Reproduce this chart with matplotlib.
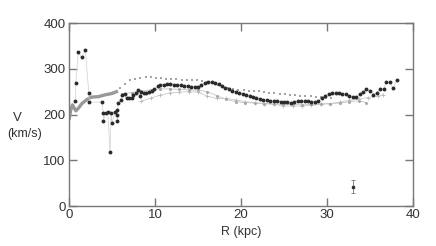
import matplotlib
matplotlib.use("Agg")
import matplotlib.pyplot as plt

plt.rcParams['font.family'] = ['Liberation Sans', 'DejaVu Sans']

# -------- DATA --------
# thick model curve, inner region
inner_r = [0.0, 0.2, 0.4, 0.6, 0.8, 1.1, 1.5, 2.1, 2.6, 3.4, 4.2, 5.0, 5.4, 5.7]
inner_v = [188, 210, 221, 214, 208, 214, 224, 233, 238, 239, 243, 246, 249, 251]

# upper grey dotted series
upper_r = [5.9, 6.5, 7.1, 7.7, 8.3, 8.9, 9.5, 10.1, 10.7, 11.3, 11.9, 12.5, 13.1,
           13.7, 14.3, 14.9, 15.5, 16.1, 16.7, 17.3, 17.9, 18.5, 19.1, 19.7,
           20.3, 20.9, 21.5, 22.1, 22.7, 23.3, 23.9, 24.5, 25.1, 25.7, 26.3,
           26.9, 27.5, 28.1, 28.7, 29.3, 29.9, 30.5]
upper_v = [258, 267, 275, 278, 280, 281, 281, 280, 279, 278, 277, 277, 276,
           276, 275, 275, 273, 272, 268, 265, 261, 258, 256, 254,
           253, 252, 252, 251, 250, 248, 247, 245, 244, 242, 242,
           241, 240, 240, 239, 238, 236, 235]

# thin grey series with circles
mid_r = [6.2, 7.3, 8.4, 9.5, 10.6, 11.7, 12.8, 13.9, 15.0, 16.1, 17.2, 18.3, 19.4,
         20.5, 21.6, 22.7, 23.8, 24.9, 26.0, 27.1, 28.2, 29.3, 30.4, 31.5, 32.6,
         33.7, 34.6]
mid_v = [245, 248, 251, 254, 256, 256, 255, 254, 253, 250, 241, 233, 228,
         226, 225, 224, 223, 222, 222, 221, 222, 223, 224, 225, 228,
         230, 226]

# lightest thin series
low_r = [8.4, 9.5, 10.6, 11.7, 12.8, 13.9, 15.0, 16.1, 17.2, 18.3, 19.4, 20.5,
         21.6, 22.7, 23.8, 24.9, 26.0, 27.1, 28.2, 29.3, 30.4, 31.5, 32.6, 33.7,
         34.8, 35.9, 36.5]
low_v = [229, 236, 242, 247, 249, 250, 249, 240, 235, 235, 232, 228,
         226, 224, 222, 219, 218, 219, 220, 222, 224, 227, 231, 234,
         237, 240, 243]

# observed points
obs_r = [0.73, 0.78, 1.08, 1.47, 1.9, 2.3, 2.36, 3.8, 4.0, 4.0, 4.25, 4.5, 4.77,
         4.9, 5.0, 5.35, 5.6, 5.6, 5.6, 5.7, 6.0, 6.2, 6.5, 6.7, 7.0, 7.3, 7.5,
         7.8, 8.0, 8.2, 8.4, 8.7, 9.0, 9.3, 9.6, 9.9, 10.3, 10.6, 11.0, 11.4,
         11.8, 12.2, 12.6, 13.0, 13.4, 13.8, 14.2, 14.6, 15.0, 15.4, 15.8, 16.2,
         16.6, 17.0, 17.4, 17.8, 18.2, 18.6, 19.0, 19.4, 19.8, 20.2, 20.6, 21.0,
         21.4, 21.8, 22.2, 22.6, 23.0, 23.4, 23.8, 24.2, 24.6, 25.0, 25.4, 25.8,
         26.2, 26.6, 27.0, 27.4, 27.8, 28.2, 28.6, 29.0, 29.4, 29.8, 30.2, 30.6,
         31.0, 31.4, 31.8, 32.2, 32.6, 33.0, 33.4, 33.8, 34.2, 34.6, 35.0, 35.4,
         35.8, 36.2, 36.6, 36.9, 37.3, 37.7, 38.1]
obs_v = [229, 268, 336, 325, 340, 248, 227, 227, 204, 186, 203, 206, 118,
         203, 181, 206, 209, 200, 186, 225, 232, 243, 245, 236, 235, 237, 242,
         246, 254, 240, 249, 247, 248, 250, 252, 255, 262, 264, 265, 266,
         266, 265, 265, 264, 263, 262, 261, 260, 261, 265, 268, 270,
         270, 269, 267, 262, 258, 255, 252, 249, 247, 245, 242, 240,
         238, 236, 234, 232, 231, 230, 229, 229, 228, 228, 227, 226,
         228, 229, 229, 229, 229, 228, 227, 230, 237, 241, 245, 247,
         247, 247, 245, 244, 241, 238, 238, 245, 250, 255, 252, 243,
         248, 255, 255, 271, 270, 257, 275]

# typical error bar
err_r = [33.0]
err_v = [42]
err_dv = [14]

x_ticks = [0, 10, 20, 30, 40]
y_ticks = [0, 100, 200, 300, 400]

# -------- PLOT --------
fig = plt.figure(figsize=(4.36, 2.46), dpi=100)
ax = fig.add_axes([0.1583, 0.1626, 0.7887, 0.7439])

ax.plot(low_r, low_v, color='#cccccc', lw=0.6, marker='+', ms=3, mew=0.6,
        mec='#b8b8b8')
ax.plot(mid_r, mid_v, color='#c4c4c4', lw=0.6, marker='o', ms=2.2, mew=0,
        mfc='#a8a8a8')
ax.plot(upper_r, upper_v, ls='none', marker='s', ms=2.0, mew=0, mfc='#a4a4a4')
ax.plot(inner_r, inner_v, color='#999999', lw=2.4, solid_capstyle='butt')
ax.plot(obs_r, obs_v, color='#d0d0d0', lw=0.5)
ax.plot(obs_r, obs_v, ls='none', marker='o', ms=2.8, mew=0, mfc='#2a2a2a')
ax.errorbar(err_r, err_v, yerr=err_dv, fmt='s', ms=2, color='#333333',
            ecolor='#777777', elinewidth=0.6, capsize=1.5, capthick=0.6)

ax.set_xlim(0, 40)
ax.set_ylim(0, 400)
ax.set_xticks(x_ticks)
ax.set_yticks(y_ticks)
ax.tick_params(direction='in', length=6, width=1, color='#777777',
               labelsize=9.5, labelcolor='#333333', top=True, right=True,
               pad=2.5)
for s in ax.spines.values():
    s.set_color('#777777')
    s.set_linewidth(1)

ax.set_xlabel('R (kpc)', fontsize=9, color='#333333', labelpad=3)
fig.text(0.040, 0.522, 'V', fontsize=9.5, color='#333333', ha='center',
         va='center')
fig.text(0.056, 0.455, '(km/s)', fontsize=9, color='#333333', ha='center',
         va='center')

fig.savefig('out.png', dpi=100)
